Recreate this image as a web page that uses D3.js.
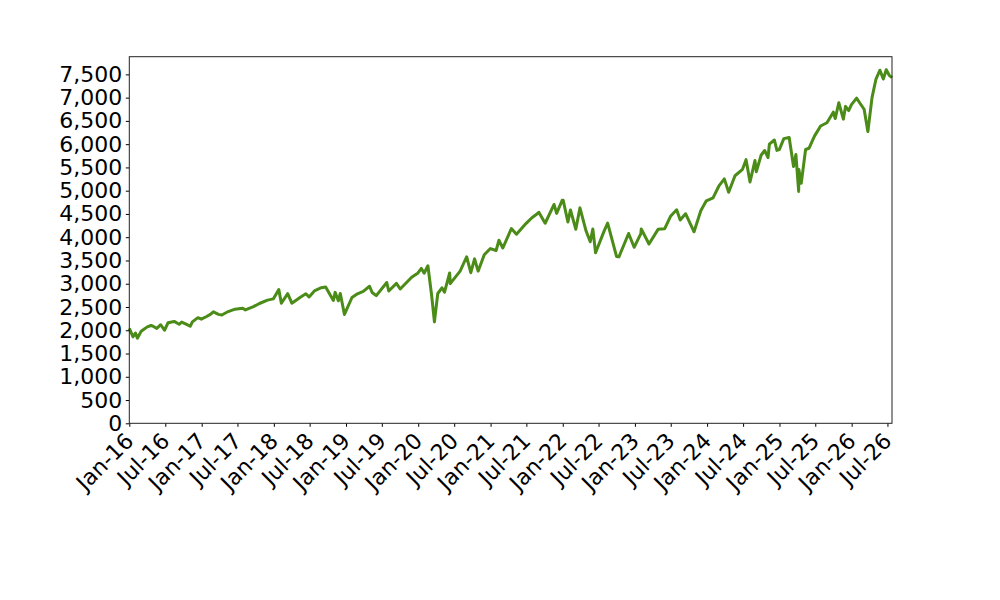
<!DOCTYPE html>
<html>
<head>
<meta charset="utf-8">
<script src="https://cdn.jsdelivr.net/npm/d3@7"></script>
<style>
  body { margin: 0; background: #fff; }
  text { font-family: "DejaVu Sans", sans-serif; }
</style>
</head>
<body>
<div id="chart"></div>
<script>
// index level (roughly twice a month)
const dates = [
  "2016-01-01","2016-01-20","2016-02-01","2016-02-11","2016-03-01","2016-03-15","2016-04-01","2016-04-20","2016-05-02","2016-05-19","2016-06-08","2016-06-27","2016-07-15","2016-08-15","2016-09-09","2016-09-22","2016-10-14","2016-11-04","2016-11-15","2016-12-13","2016-12-30",
  "2017-01-26","2017-02-14","2017-03-01","2017-03-27","2017-04-13","2017-05-15","2017-06-19","2017-07-27","2017-08-10","2017-09-20","2017-10-20","2017-11-30","2017-12-29",
  "2018-01-26","2018-02-08","2018-03-12","2018-04-02","2018-05-15","2018-06-12","2018-06-28","2018-07-25","2018-08-29","2018-09-20","2018-10-29","2018-11-07","2018-11-23","2018-12-03","2018-12-24",
  "2019-01-31","2019-02-28","2019-03-29","2019-04-30","2019-05-13","2019-06-03","2019-07-26","2019-08-05","2019-09-13","2019-10-02","2019-11-29","2019-12-31",
  "2020-01-17","2020-01-31","2020-02-19","2020-03-09","2020-03-23","2020-04-09","2020-04-30","2020-05-13","2020-06-08","2020-06-11","2020-07-31","2020-09-02","2020-09-23","2020-10-12","2020-10-30","2020-11-30","2020-12-31",
  "2021-01-29","2021-02-12","2021-03-04","2021-04-16","2021-05-12","2021-06-30","2021-07-29","2021-08-27","2021-09-02","2021-10-04","2021-11-18","2021-12-01","2021-12-29",
  "2022-01-03","2022-01-27","2022-02-09","2022-03-08","2022-03-29","2022-04-29","2022-05-20","2022-06-02","2022-06-16","2022-07-29","2022-08-16","2022-09-30","2022-10-12","2022-11-30","2022-12-28",
  "2023-01-31","2023-02-02","2023-03-13","2023-04-28","2023-05-31","2023-06-30","2023-07-31","2023-08-18","2023-09-14","2023-10-27","2023-11-30","2023-12-28",
  "2024-01-31","2024-02-29","2024-03-28","2024-04-19","2024-05-21","2024-06-28","2024-07-16","2024-08-05","2024-08-30","2024-09-06","2024-09-30","2024-10-18","2024-11-04","2024-11-11","2024-12-06","2024-12-19","2024-12-31",
  "2025-01-23","2025-02-19","2025-03-13","2025-03-25","2025-04-08","2025-04-09","2025-04-21","2025-05-13","2025-05-30","2025-06-27","2025-07-28","2025-08-29","2025-09-30","2025-10-10","2025-10-28","2025-11-20","2025-12-01","2025-12-17","2025-12-31",
  "2026-01-26","2026-02-12","2026-03-05","2026-03-24","2026-04-14","2026-05-04","2026-05-24","2026-06-10","2026-06-25","2026-07-10","2026-07-24"
];

const values = [
  2040,1860,1940,1830,1978,2020,2072,2102,2081,2040,2119,2000,2161,2190,2128,2177,2133,2085,2180,2271,2239,
  2296,2340,2396,2341,2329,2402,2453,2475,2438,2508,2575,2648,2674,
  2873,2581,2786,2582,2711,2786,2716,2846,2914,2931,2641,2814,2633,2790,2340,
  2704,2784,2834,2946,2812,2744,3026,2844,3007,2887,3141,3231,
  3330,3226,3386,2747,2180,2790,2912,2820,3232,3002,3271,3580,3237,3534,3270,3622,3756,
  3714,3934,3768,4185,4063,4298,4419,4509,4537,4300,4704,4513,4793,
  4796,4326,4587,4170,4631,4132,3901,4176,3667,4130,4305,3586,3577,4080,3783,
  4077,4179,3855,4169,4180,4450,4589,4370,4505,4117,4568,4783,
  4846,5096,5254,4967,5321,5460,5667,5186,5648,5408,5762,5864,5712,6001,6090,5867,5882,
  6119,6144,5521,5776,4983,5457,5158,5886,5912,6173,6390,6460,6688,6552,6890,6538,6812,6721,6850,
  6990,6880,6750,6270,7000,7400,7590,7400,7600,7480,7430
];

const yTicks = d3.range(0, 7501, 500);
const xTickDates = d3.range(0, 22).map(i => new Date(2016 + Math.floor(i / 2), (i % 2) * 6, 1));

const width = 1000, height = 600;
const margin = { top: 56.7, right: 108, bottom: 176.7, left: 129.3 };
const lineColor = "#4b8b17";
const fontSize = 22;

const parseDate = d3.timeParse("%Y-%m-%d");
const series = dates.map((d, i) => ({ date: parseDate(d), value: values[i] }));

const svg = d3.select("#chart")
    .append("svg")
    .attr("width", width)
    .attr("height", height);

const x = d3.scaleTime()
    .domain([new Date(2016, 0, 1), new Date(2026, 6, 24)])
    .range([margin.left, width - margin.right]);

const y = d3.scaleLinear()
    .domain([0, 7880])
    .range([height - margin.bottom, margin.top]);

// the series
const line = d3.line()
    .x(d => x(d.date))
    .y(d => y(d.value));

svg.append("path")
    .datum(series)
    .attr("fill", "none")
    .attr("stroke", lineColor)
    .attr("stroke-width", 3)
    .attr("stroke-linejoin", "round")
    .attr("d", line);

// y axis
const yAxis = svg.append("g")
    .attr("transform", `translate(${margin.left},0)`)
    .call(d3.axisLeft(y).tickValues(yTicks).tickSize(3.5).tickPadding(3.5).tickFormat(d3.format(",")));
yAxis.select(".domain").remove();
yAxis.selectAll("text")
    .attr("font-size", fontSize)
    .attr("fill", "#000")
    .attr("font-family", "DejaVu Sans");
yAxis.selectAll("line").attr("stroke", "#000");

// x axis
const xAxis = svg.append("g")
    .attr("transform", `translate(0,${height - margin.bottom})`)
    .call(d3.axisBottom(x).tickValues(xTickDates).tickSize(3.5).tickFormat(d3.timeFormat("%b-%y")));
xAxis.select(".domain").remove();
xAxis.selectAll("line").attr("stroke", "#000");
xAxis.selectAll("text")
    .attr("font-size", fontSize)
    .attr("fill", "#000")
    .attr("font-family", "DejaVu Sans")
    .attr("text-anchor", "end")
    .attr("dy", null)
    .attr("y", null)
    .attr("transform", "translate(5,19) rotate(-45)");

// frame round the plot area
svg.append("rect")
    .attr("x", margin.left)
    .attr("y", margin.top)
    .attr("width", width - margin.left - margin.right)
    .attr("height", height - margin.top - margin.bottom)
    .attr("fill", "none")
    .attr("stroke", "#222")
    .attr("stroke-width", 1);
</script>
</body>
</html>
